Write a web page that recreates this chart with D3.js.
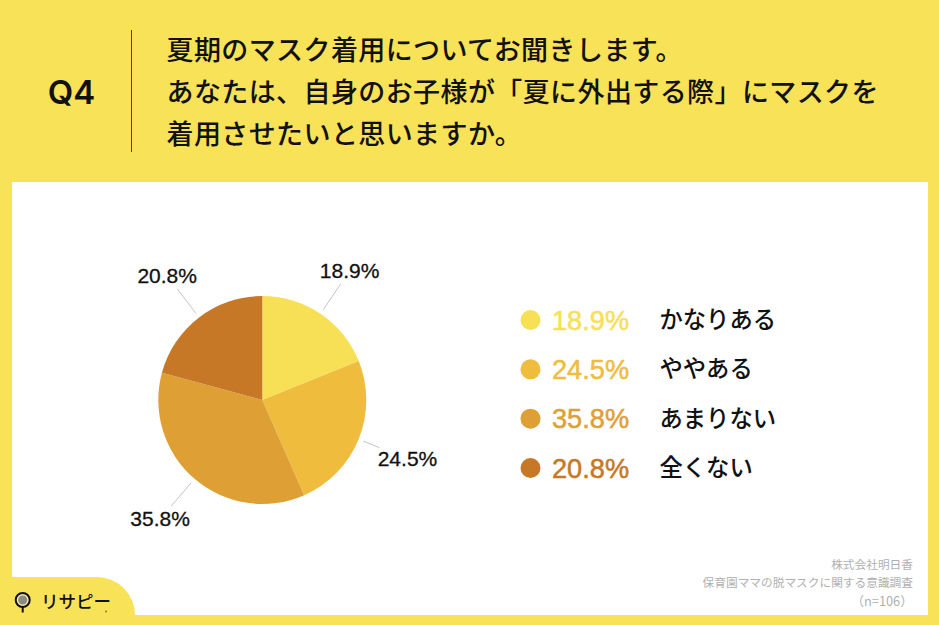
<!DOCTYPE html>
<html>
<head>
<meta charset="utf-8">
<script src="https://cdn.jsdelivr.net/npm/d3@7"></script>
<style>
  html, body { margin: 0; padding: 0; background: #f8e257; overflow: hidden; }
  text { font-family: "Noto Sans CJK JP", sans-serif; }
  .num { font-family: "Liberation Sans", sans-serif; }
</style>
</head>
<body>
<script>
    "use strict";

    // chart data
    var categories = ["かなりある", "ややある", "あまりない", "全くない"];
    var values = [18.9, 24.5, 35.8, 20.8];
    var titleLines = [
        "夏期のマスク着用についてお聞きします。",
        "あなたは、自身のお子様が「夏に外出する際」にマスクを",
        "着用させたいと思いますか。"
    ];
    var sourceLines = ["株式会社明日香", "保育園ママの脱マスクに関する意識調査", "（n=106）"];
    var questionLabel = "Q4";
    var logoLabel = "リサピー";

    // styling
    var colors = ["#f7e056", "#efbc3e", "#dea035", "#c67827"];
    var background = "#f8e257";

    var width = 939, height = 625;

    var svg = d3.select("body").append("svg")
        .attr("width", width)
        .attr("height", height)
        .style("display", "block");

    svg.append("rect").attr("width", width).attr("height", height).attr("fill", background);
    svg.append("rect")
        .attr("x", 12).attr("y", 182)
        .attr("width", 916).attr("height", 433)
        .attr("fill", "#fff");

    /*
     * HEADER
     */
    svg.append("text")
        .attr("x", 71.5).attr("y", 103.5)
        .attr("text-anchor", "middle")
        .style("font-family", "Inter, sans-serif")
        .attr("font-size", 33)
        .attr("font-weight", 600)
        .attr("fill", "#111")
        .text(questionLabel);

    svg.append("line")
        .attr("x1", 131.5).attr("x2", 131.5)
        .attr("y1", 30).attr("y2", 152)
        .attr("stroke", "#4a4226")
        .attr("stroke-width", 1);

    svg.append("g").selectAll("text")
        .data(titleLines)
        .join("text")
        .attr("x", 166.5)
        .attr("y", function (d, i) { return 60 + i * 42; })
        .attr("font-size", 27)
        .attr("font-weight", 500)
        .attr("fill", "#111")
        .style("letter-spacing", "0.4px")
        .text(function (d) { return d; });

    /*
     * PIE
     */
    var radius = 104;
    var pie = d3.pie().sort(null).value(function (d) { return d; });
    var arcs = pie(values);
    var arc = d3.arc().innerRadius(0).outerRadius(radius);

    var pieGroup = svg.append("g").attr("transform", "translate(262.3,400)");

    pieGroup.selectAll("path")
        .data(arcs)
        .join("path")
        .attr("d", arc)
        .attr("fill", function (d, i) { return colors[i]; });

    // leader lines run along each slice's middle angle
    var leaderStart = 109;
    var leaderEnds = [140, 126.5, 140, 140];
    var labelOffsets = [[9, -13], [28, 11], [-11, 13], [-10, -13]];

    function polar(d, r) {
        var a = (d.startAngle + d.endAngle) / 2;
        return [Math.sin(a) * r, -Math.cos(a) * r];
    }

    pieGroup.selectAll("line")
        .data(arcs)
        .join("line")
        .attr("x1", function (d) { return polar(d, leaderStart)[0]; })
        .attr("y1", function (d) { return polar(d, leaderStart)[1]; })
        .attr("x2", function (d, i) { return polar(d, leaderEnds[i])[0]; })
        .attr("y2", function (d, i) { return polar(d, leaderEnds[i])[1]; })
        .attr("stroke", "#c4c4c4")
        .attr("stroke-width", 1);

    pieGroup.selectAll("text")
        .data(arcs)
        .join("text")
        .attr("class", "num")
        .attr("x", function (d, i) { return polar(d, leaderEnds[i])[0] + labelOffsets[i][0]; })
        .attr("y", function (d, i) { return polar(d, leaderEnds[i])[1] + labelOffsets[i][1] + 7; })
        .attr("text-anchor", "middle")
        .attr("font-size", 21)
        .attr("fill", "#111")
        .attr("stroke", "#111")
        .attr("stroke-width", 0.3)
        .text(function (d) { return d.value.toFixed(1) + "%"; });

    /*
     * LEGEND
     */
    var legendY = d3.scalePoint().domain(categories).range([320, 468]);

    var legend = svg.append("g").selectAll("g")
        .data(categories)
        .join("g")
        .attr("transform", function (d) { return "translate(0," + legendY(d) + ")"; });

    legend.append("circle")
        .attr("cx", 530.5)
        .attr("r", 10)
        .attr("fill", function (d, i) { return colors[i]; });

    legend.append("text")
        .attr("class", "num")
        .attr("x", 552)
        .attr("y", 9.5)
        .attr("font-size", 27.2)
        .attr("fill", function (d, i) { return colors[i]; })
        .attr("stroke", function (d, i) { return colors[i]; })
        .attr("stroke-width", 0.5)
        .text(function (d, i) { return values[i].toFixed(1) + "%"; });

    legend.append("text")
        .attr("x", 659.5)
        .attr("y", 8)
        .attr("font-size", 23.3)
        .attr("font-weight", 500)
        .attr("fill", "#111")
        .text(function (d) { return d; });

    /*
     * SOURCE NOTE
     */
    svg.append("g").selectAll("text")
        .data(sourceLines)
        .join("text")
        .attr("x", 913)
        .attr("y", function (d, i) { return [569, 587, 606][i]; })
        .attr("text-anchor", "end")
        .attr("font-size", function (d, i) { return i === 2 ? 12.8 : 11.7; })
        .attr("font-weight", 400)
        .attr("fill", "#b0b0b0")
        .text(function (d) { return d; });

    /*
     * LOGO
     */
    var logoShape = d3.path();
    logoShape.moveTo(12, 577);
    logoShape.lineTo(97, 577);
    logoShape.arcTo(135, 577, 135, 615, 38);
    logoShape.lineTo(12, 615);
    logoShape.closePath();
    svg.append("path").attr("d", logoShape.toString()).attr("fill", background);

    var logoIcon = svg.append("g").attr("transform", "translate(22.7,600)");
    logoIcon.append("circle")
        .attr("r", 7)
        .attr("fill", "#f3e9b0")
        .attr("stroke", "#111")
        .attr("stroke-width", 2);
    logoIcon.append("path")
        .attr("d", d3.arc().innerRadius(0).outerRadius(4.5).startAngle(0).endAngle(Math.PI * 2)())
        .attr("fill", "#8d8a84");
    logoIcon.append("line")
        .attr("y1", 7).attr("y2", 12.5)
        .attr("stroke", "#111")
        .attr("stroke-width", 2);

    svg.append("text")
        .attr("x", 41)
        .attr("y", 608)
        .attr("font-size", 17.5)
        .attr("font-weight", 500)
        .attr("fill", "#111")
        .text(logoLabel);

    svg.append("circle")
        .attr("cx", 106)
        .attr("cy", 611.5)
        .attr("r", 1)
        .attr("fill", "#8a7a30");
</script>
</body>
</html>
